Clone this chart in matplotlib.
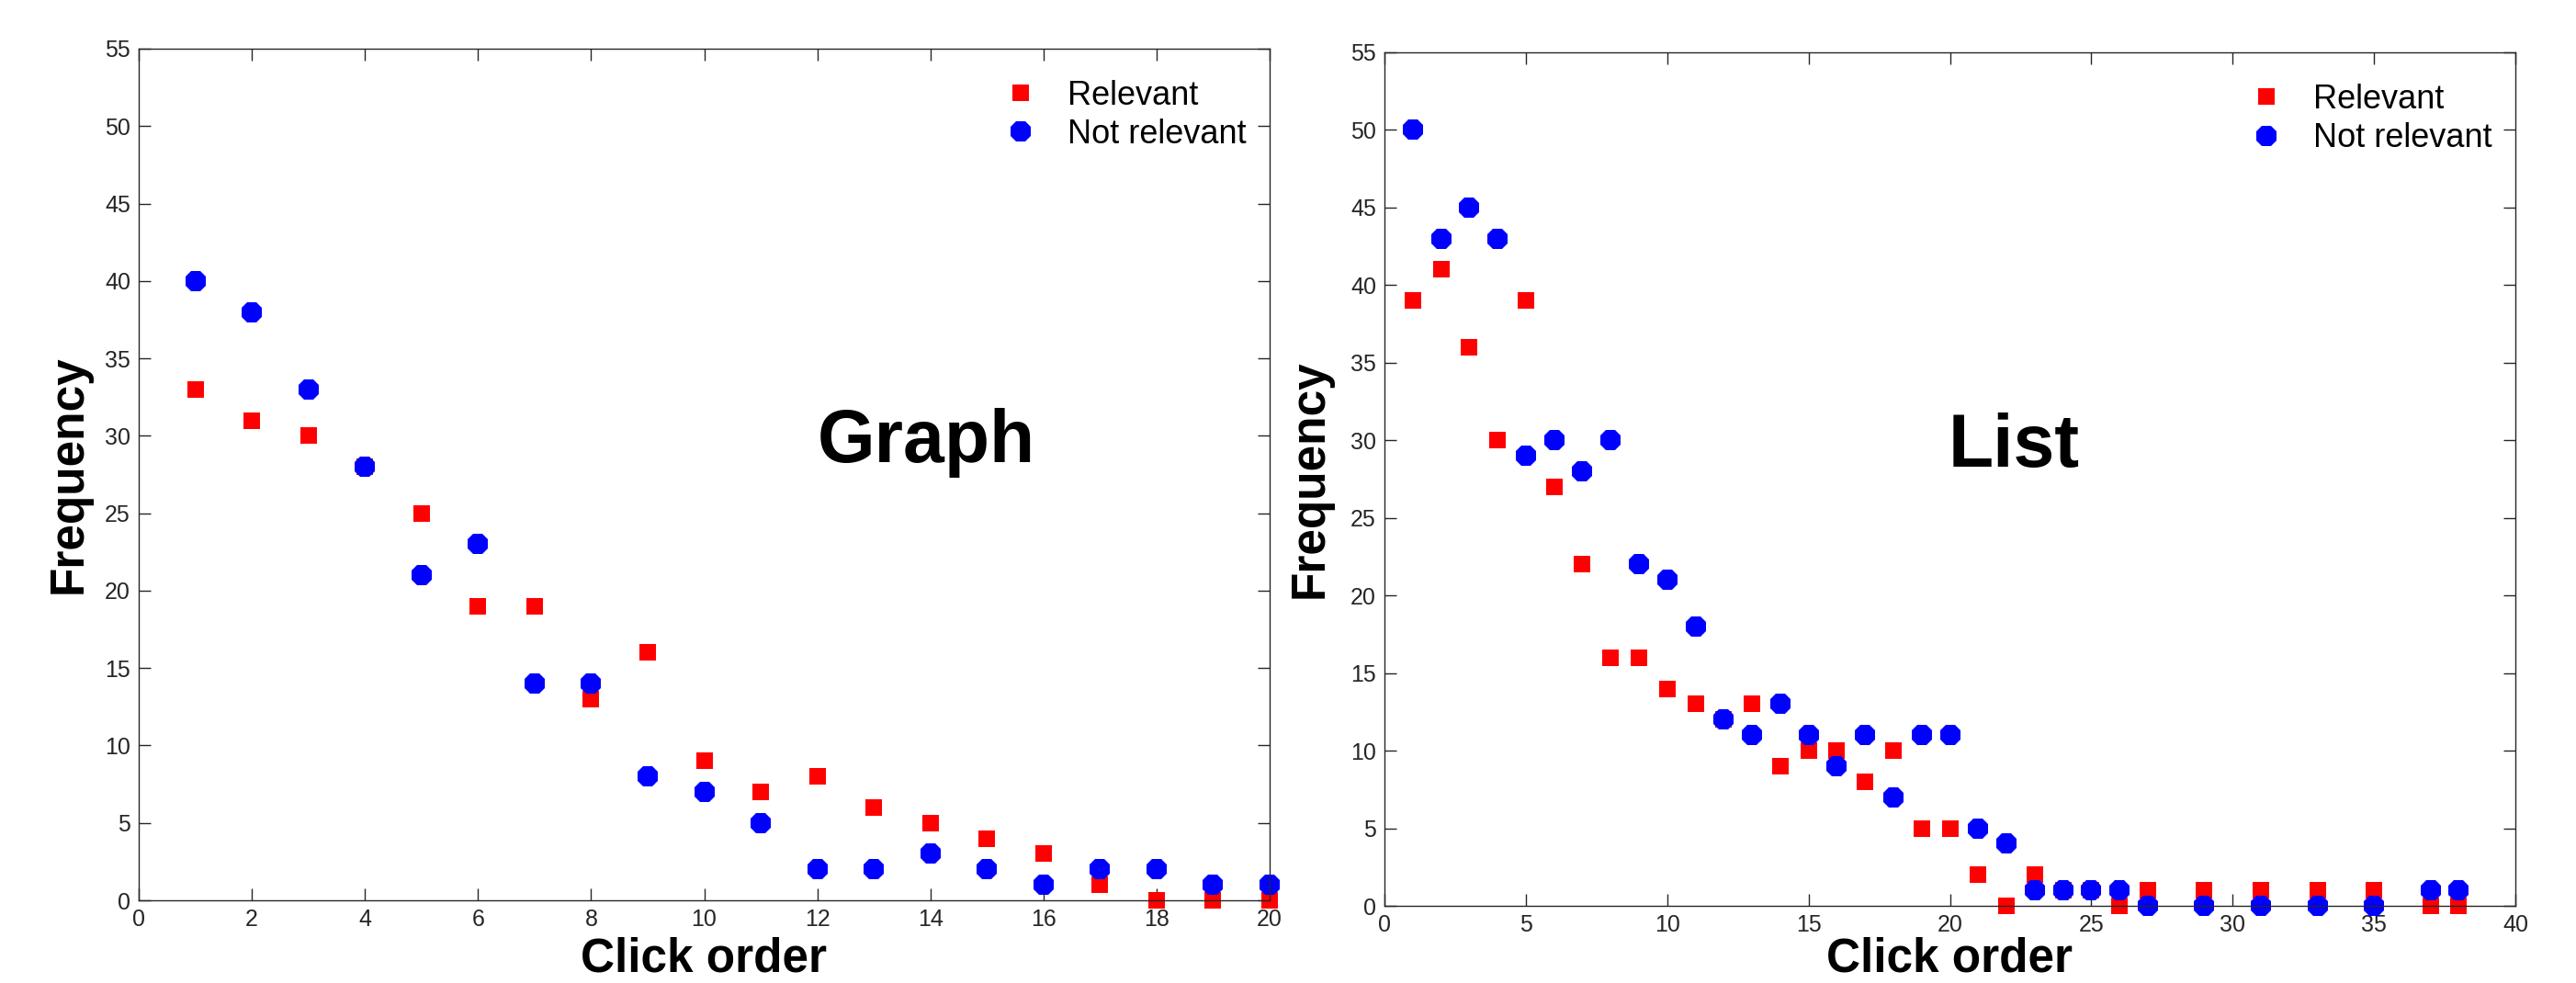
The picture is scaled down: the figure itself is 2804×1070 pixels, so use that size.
import matplotlib
matplotlib.use("Agg")
import matplotlib.pyplot as plt

plt.rcParams['font.family'] = ['Liberation Sans', 'DejaVu Sans']

# ---- data ----
graph_x = list(range(1, 21))
graph_relevant = [33, 31, 30, 28, 25, 19, 19, 13, 16, 9, 7, 8, 6, 5, 4, 3, 1, 0, 0, 0]
graph_not_relevant = [40, 38, 33, 28, 21, 23, 14, 14, 8, 7, 5, 2, 2, 3, 2, 1, 2, 2, 1, 1]

list_x = list(range(1, 28)) + [29, 31, 33, 35, 37, 38]
list_relevant = [39, 41, 36, 30, 39, 27, 22, 16, 16, 14, 13, 12, 13, 9, 10, 10, 8, 10, 5, 5,
                 2, 0, 2, 1, 1, 0, 1, 1, 1, 1, 1, 0, 0]
list_not_relevant = [50, 43, 45, 43, 29, 30, 28, 30, 22, 21, 18, 12, 11, 13, 11, 9, 11, 7, 11, 11,
                     5, 4, 1, 1, 1, 1, 0, 0, 0, 0, 0, 1, 1]

graph_xticks = list(range(0, 21, 2))
list_xticks = list(range(0, 41, 5))
yticks = list(range(0, 56, 5))

series_labels = ["Relevant", "Not relevant"]
x_label = "Click order"
y_label = "Frequency"

W, H = 2804, 1070
fig = plt.figure(figsize=(W / 100, H / 100), dpi=100)

def px_axes(x0, x1, y0, y1):
    return fig.add_axes([x0 / W, 1 - y1 / H, (x1 - x0) / W, (y1 - y0) / H])

ax1 = px_axes(151, 1382, 53, 980)
ax2 = px_axes(1507, 2738, 57, 986)

tick_color = '#262626'

def style(ax, xs, rel, nrel, xlim, xticks, title, title_x):
    ax.plot(xs, rel, linestyle='none', marker='s', markersize=13, color='#ff0000',
            markeredgewidth=0, clip_on=False, label=series_labels[0])
    ax.plot(xs, nrel, linestyle='none', marker='8', markersize=17, color='#0000ff',
            markeredgewidth=0, clip_on=False, label=series_labels[1])
    ax.set_xlim(*xlim)
    ax.set_ylim(0, 55)
    ax.set_xticks(xticks)
    ax.set_yticks(yticks)
    ax.tick_params(direction='in', length=9.4, width=1.0, top=True, right=True,
                   labelsize=18, colors=tick_color, pad=6.5)
    for sp in ax.spines.values():
        sp.set_linewidth(1.0)
        sp.set_color(tick_color)
    ax.set_xlabel(x_label, fontsize=37, fontweight='bold')
    ax.set_ylabel(y_label, fontsize=37, fontweight='bold')
    ax.xaxis.label.set_va('baseline')
    ax.text(title_x, 0.515, title, transform=ax.get_xaxis_transform(),
            fontsize=58, fontweight='bold', ha='center', va='baseline')
    leg = ax.legend(loc='upper left', bbox_to_anchor=(0.7506, 0.979), borderaxespad=0,
                    frameon=False, fontsize=26, handlelength=1.2, handletextpad=0.8,
                    labelspacing=0.2, numpoints=1)
    return leg

style(ax1, graph_x, graph_relevant, graph_not_relevant, (0, 20), graph_xticks, "Graph", 13.93)
style(ax2, list_x, list_relevant, list_not_relevant, (0, 40), list_xticks, "List", 22.25)
ax1.yaxis.set_label_coords(-0.042, 0.5)
ax2.yaxis.set_label_coords(-0.046, 0.5)
ax1.xaxis.set_label_coords(0.5, -0.084)
ax2.xaxis.set_label_coords(0.5, -0.0775)

fig.savefig("out.png", dpi=100, facecolor='white')
